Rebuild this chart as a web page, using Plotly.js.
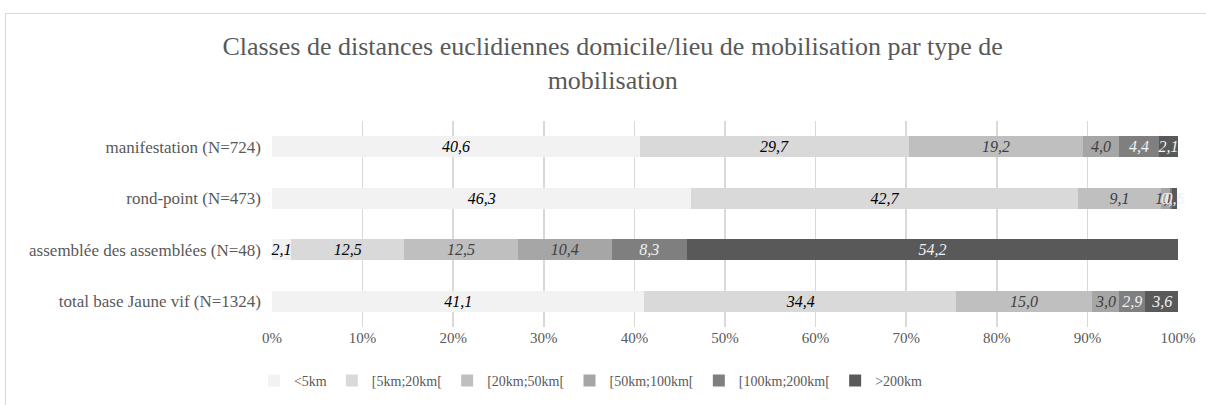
<!DOCTYPE html>
<html>
<head>
<meta charset="utf-8">
<script src="https://cdn.plot.ly/plotly-3.0.1.min.js"></script>
<style>
  html, body { margin: 0; padding: 0; background: #ffffff; overflow: hidden; }
  #frame { position: absolute; left: 5px; top: 13px; width: 1210px; height: 400px; border: 1px solid #d9d9d9; box-sizing: border-box; }
  #chart { position: absolute; left: 0; top: 0; width: 1206px; height: 405px; }
</style>
</head>
<body>
<div id="frame"></div>
<div id="chart"></div>
<script>
const categories = [
  "manifestation (N=724)",
  "rond-point (N=473)",
  "assemblée des assemblées (N=48)",
  "total base Jaune vif (N=1324)"
];
const seriesNames = ["<5km", "[5km;20km[", "[20km;50km[", "[50km;100km[", "[100km;200km[", ">200km"];
const lt5km       = [40.6, 46.3, 2.1, 41.1];
const km5to20     = [29.7, 42.7, 12.5, 34.4];
const km20to50    = [19.2, 9.1, 12.5, 15.0];
const km50to100   = [4.0, 1.0, 10.4, 3.0];
const km100to200  = [4.4, 0.2, 8.3, 2.9];
const gt200km     = [2.1, 0.6, 54.2, 3.6];
const xTickVals   = [0, 10, 20, 30, 40, 50, 60, 70, 80, 90, 100];
const xTickText   = ["0%", "10%", "20%", "30%", "40%", "50%", "60%", "70%", "80%", "90%", "100%"];

const seriesValues = [lt5km, km5to20, km20to50, km50to100, km100to200, gt200km];
const colors = ["#f2f2f2", "#d9d9d9", "#bfbfbf", "#a6a6a6", "#7f7f7f", "#595959"];
const textColors = ["#000000", "#000000", "#404040", "#404040", "#f2f2f2", "#f2f2f2"];

const fmt = v => v.toFixed(1).replace(".", ",");

const traces = seriesValues.map((vals, i) => ({
  type: "bar",
  orientation: "h",
  name: seriesNames[i],
  y: categories,
  x: vals,
  text: vals.map(fmt),
  textposition: "inside",
  insidetextanchor: "middle",
  textangle: 0,
  constraintext: "none",
  cliponaxis: false,
  textfont: { family: "Liberation Serif, serif", size: 16, color: textColors[i], style: "italic" },
  marker: { color: colors[i], line: { width: 0 } },
  hoverinfo: "x+name"
}));

const layout = {
  width: 1206,
  height: 405,
  barmode: "stack",
  bargap: 0.6,
  paper_bgcolor: "rgba(0,0,0,0)",
  plot_bgcolor: "rgba(0,0,0,0)",
  font: { family: "Liberation Serif, serif", color: "#595959", size: 15 },
  uniformtext: { minsize: 16, mode: "show" },
  title: {
    text: "Classes de distances euclidiennes domicile/lieu de mobilisation par type de<br>mobilisation",
    font: { family: "Liberation Serif, serif", size: 26, color: "#595959" },
    x: 0.508, xanchor: "center", xref: "container",
    y: 0.863, yanchor: "top", yref: "container"
  },
  margin: { l: 272, r: 28, t: 121, b: 78 },
  xaxis: {
    range: [0, 100],
    tickvals: xTickVals,
    ticktext: xTickText,
    showgrid: true,
    gridcolor: "#d9d9d9",
    gridwidth: 1.5,
    zeroline: false,
    showline: false,
    ticks: "",
    tickfont: { family: "Liberation Serif, serif", size: 15, color: "#595959" },
    fixedrange: true
  },
  yaxis: {
    autorange: "reversed",
    showgrid: false,
    zeroline: false,
    showline: false,
    ticks: "",
    ticklabelstandoff: 10,
    tickfont: { family: "Liberation Serif, serif", size: 17, color: "#595959" },
    fixedrange: true
  },
  legend: {
    orientation: "h",
    x: 0.49, xanchor: "center", xref: "container",
    y: 0.02, yanchor: "bottom", yref: "container",
    font: { family: "Liberation Serif, serif", size: 14, color: "#595959" },
    traceorder: "normal",
    itemwidth: 30
  },
  showlegend: true
};

Plotly.newPlot("chart", traces, layout, { displayModeBar: false, staticPlot: true });
</script>
</body>
</html>
